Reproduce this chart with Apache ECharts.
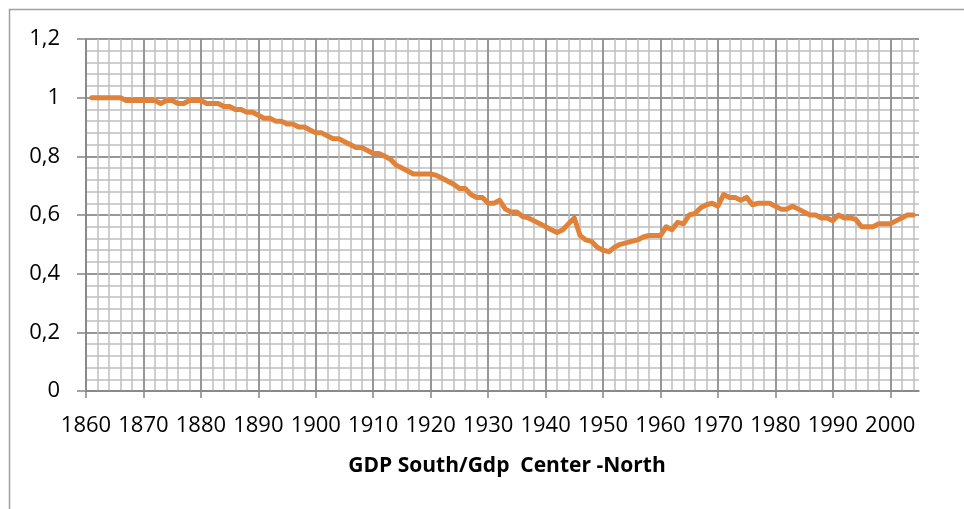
<!DOCTYPE html>
<html>
<head>
<meta charset="utf-8">
<title>GDP South/Gdp Center -North</title>
<style>
    html,body{margin:0;padding:0;background:#fff;}
    #chart{width:964px;height:509px;}
</style>
</head>
<body>
<div id="chart"></div>
<script src="https://cdn.jsdelivr.net/npm/echarts@6/dist/echarts.min.js"></script>
<script>
// years 1860..2005, data only from 1861 to 2004
var years = [];
for (var y = 1860; y <= 2005; y++) years.push(String(y));

var ratio = [null,
    1.00, 1.00, 1.00, 1.00, 1.00, 1.00, 0.99, 0.99, 0.99, 0.99,   // 1861-1870
    0.99, 0.99, 0.98, 0.99, 0.99, 0.98, 0.98, 0.99, 0.99, 0.99,   // 1871-1880
    0.98, 0.98, 0.98, 0.97, 0.97, 0.96, 0.96, 0.95, 0.95, 0.94,   // 1881-1890
    0.93, 0.93, 0.92, 0.92, 0.91, 0.91, 0.90, 0.90, 0.89, 0.88,   // 1891-1900
    0.88, 0.87, 0.86, 0.86, 0.85, 0.84, 0.83, 0.83, 0.82, 0.81,   // 1901-1910
    0.81, 0.80, 0.79, 0.77, 0.76, 0.75, 0.74, 0.74, 0.74, 0.74,   // 1911-1920
    0.735, 0.725, 0.715, 0.705, 0.69, 0.69, 0.67, 0.66, 0.66, 0.64, // 1921-1930
    0.64, 0.65, 0.62, 0.61, 0.61, 0.595, 0.59, 0.58, 0.57, 0.56,  // 1931-1940
    0.55, 0.54, 0.55, 0.57, 0.59, 0.53, 0.515, 0.51, 0.49, 0.48,  // 1941-1950
    0.475, 0.49, 0.50, 0.505, 0.51, 0.515, 0.525, 0.53, 0.53, 0.53, // 1951-1960
    0.56, 0.55, 0.575, 0.57, 0.60, 0.605, 0.625, 0.635, 0.64, 0.63, // 1961-1970
    0.67, 0.66, 0.66, 0.65, 0.66, 0.635, 0.64, 0.64, 0.64, 0.63,  // 1971-1980
    0.62, 0.62, 0.63, 0.62, 0.61, 0.60, 0.60, 0.59, 0.59, 0.58,   // 1981-1990
    0.60, 0.59, 0.59, 0.585, 0.56, 0.56, 0.56, 0.57, 0.57, 0.57,  // 1991-2000
    0.58, 0.59, 0.60, 0.60,                                       // 2001-2004
    null];

var yMax = 1.2;
var yStep = 0.2;
var yMinorStep = 0.04;

var FONT = '"Open Sans", "Noto Sans", sans-serif';
var minorColor = '#bebebe';
var majorColor = '#858585';

var chart = echarts.init(document.getElementById('chart'));
chart.setOption({
    animation: false,
    title: {
        text: 'GDP South/Gdp  Center -North',
        left: 502,
        textAlign: 'center',
        top: 451,
        textStyle: {fontFamily: FONT, fontSize: 21, fontWeight: 'bold', color: '#000'}
    },
    graphic: [{
        type: 'rect',
        shape: {x: 9.5, y: 9.5, width: 1000, height: 1000},
        style: {fill: 'none', stroke: '#a0a0a0', lineWidth: 1.5},
        silent: true
    }],
    grid: {left: 86, right: 45, top: 39, bottom: 118},
    xAxis: [{
        // minor vertical lines every 2 years
        type: 'category',
        position: 'bottom',
        data: years,
        boundaryGap: false,
        axisLine: {show: false},
        axisTick: {show: false},
        axisLabel: {show: false},
        splitLine: {show: true, interval: 1, lineStyle: {color: minorColor, width: 1.5}}
    }, {
        type: 'category',
        position: 'bottom',
        data: years,
        boundaryGap: false,
        axisLine: {show: true, lineStyle: {color: majorColor, width: 1.5}},
        axisTick: {show: true, interval: 9, length: 7, lineStyle: {color: majorColor, width: 1.5}},
        axisLabel: {interval: 9, margin: 24, fontFamily: FONT, fontSize: 22, color: '#000'},
        splitLine: {show: true, interval: 9, lineStyle: {color: majorColor, width: 1.5}}
    }],
    yAxis: [{
        type: 'value',
        position: 'left',
        min: 0,
        max: yMax,
        interval: yMinorStep,
        axisLine: {show: false},
        axisTick: {show: false},
        axisLabel: {show: false},
        splitLine: {show: true, lineStyle: {color: minorColor, width: 1.5}}
    }, {
        type: 'value',
        position: 'left',
        min: 0,
        max: yMax,
        interval: yStep,
        axisLine: {show: true, lineStyle: {color: majorColor, width: 1.5}},
        axisTick: {show: true, length: 9, lineStyle: {color: majorColor, width: 1.5}},
        axisLabel: {
            margin: 26,
            fontFamily: FONT, fontSize: 22, color: '#000',
            formatter: function (v) { return String(+v.toFixed(1)).replace('.', ','); }
        },
        splitLine: {show: true, lineStyle: {color: majorColor, width: 1.5}}
    }],
    series: [{
        name: 'GDP South/Gdp Center -North',
        type: 'line',
        xAxisIndex: 1,
        yAxisIndex: 1,
        data: ratio,
        showSymbol: false,
        smooth: false,
        lineStyle: {color: '#e0823a', width: 5, cap: 'round', join: 'round'}
    }]
});
</script>
</body>
</html>
